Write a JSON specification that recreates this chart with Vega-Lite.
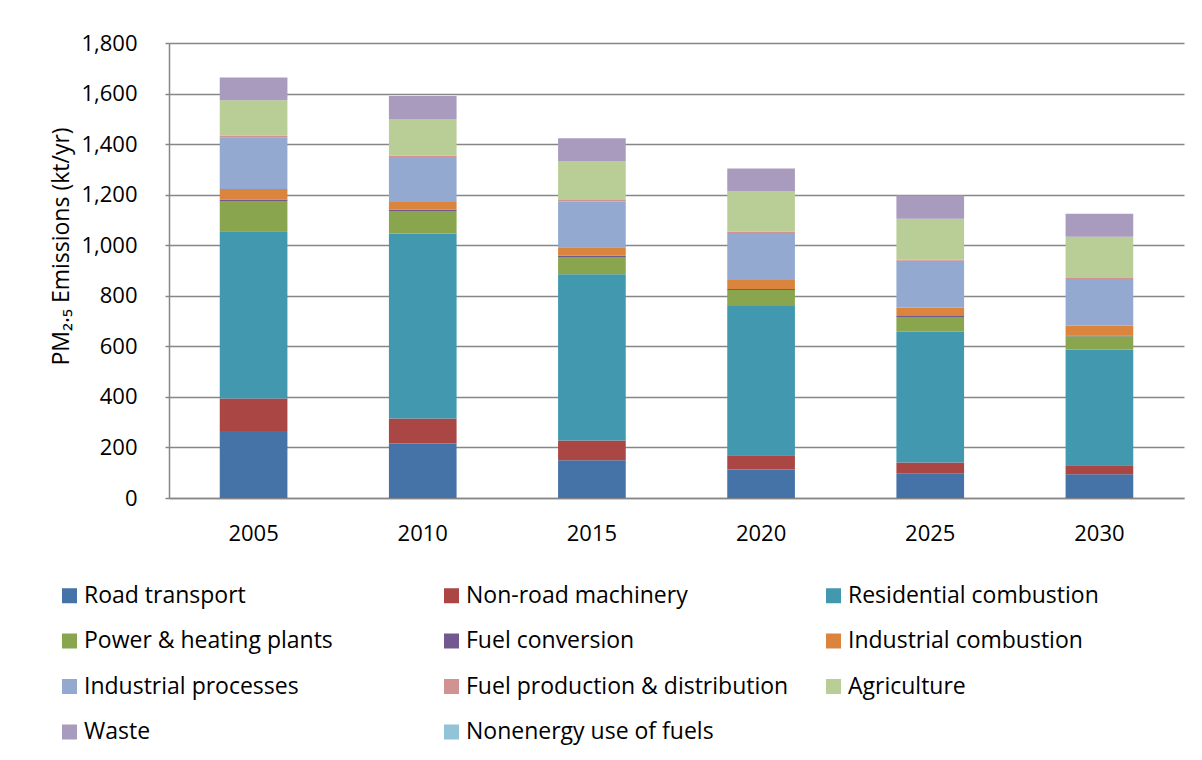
{
  "$schema": "https://vega.github.io/schema/vega-lite/v6.json",
  "autosize": {"type": "none"},
  "width": 1015,
  "height": 455,
  "padding": {"left": 169, "top": 43, "right": 18, "bottom": 262},
  "background": "white",
  "config": {
    "view": {"stroke": null},
    "font": "Open Sans",
    "axis": {"labelFont": "Open Sans", "titleFont": "Open Sans", "labelColor": "#000000", "titleColor": "#000000", "titleFontWeight": "normal"},
    "legend": {"labelFont": "Open Sans"}
  },
  "data": {
    "values": [
      {"year": "2005", "sector": "Road transport", "value": 265},
      {"year": "2005", "sector": "Non-road machinery", "value": 129},
      {"year": "2005", "sector": "Residential combustion", "value": 661},
      {"year": "2005", "sector": "Power & heating plants", "value": 120},
      {"year": "2005", "sector": "Fuel conversion", "value": 6},
      {"year": "2005", "sector": "Industrial combustion", "value": 41},
      {"year": "2005", "sector": "Industrial processes", "value": 203},
      {"year": "2005", "sector": "Fuel production & distribution", "value": 8},
      {"year": "2005", "sector": "Agriculture", "value": 141},
      {"year": "2005", "sector": "Waste", "value": 90},
      {"year": "2005", "sector": "Nonenergy use of fuels", "value": 0},
      {"year": "2010", "sector": "Road transport", "value": 216},
      {"year": "2010", "sector": "Non-road machinery", "value": 99},
      {"year": "2010", "sector": "Residential combustion", "value": 731},
      {"year": "2010", "sector": "Power & heating plants", "value": 89},
      {"year": "2010", "sector": "Fuel conversion", "value": 5},
      {"year": "2010", "sector": "Industrial combustion", "value": 31},
      {"year": "2010", "sector": "Industrial processes", "value": 178},
      {"year": "2010", "sector": "Fuel production & distribution", "value": 5},
      {"year": "2010", "sector": "Agriculture", "value": 145},
      {"year": "2010", "sector": "Waste", "value": 91},
      {"year": "2010", "sector": "Nonenergy use of fuels", "value": 0},
      {"year": "2015", "sector": "Road transport", "value": 149},
      {"year": "2015", "sector": "Non-road machinery", "value": 78},
      {"year": "2015", "sector": "Residential combustion", "value": 658},
      {"year": "2015", "sector": "Power & heating plants", "value": 68},
      {"year": "2015", "sector": "Fuel conversion", "value": 5},
      {"year": "2015", "sector": "Industrial combustion", "value": 34},
      {"year": "2015", "sector": "Industrial processes", "value": 181},
      {"year": "2015", "sector": "Fuel production & distribution", "value": 6},
      {"year": "2015", "sector": "Agriculture", "value": 154},
      {"year": "2015", "sector": "Waste", "value": 90},
      {"year": "2015", "sector": "Nonenergy use of fuels", "value": 0},
      {"year": "2020", "sector": "Road transport", "value": 113},
      {"year": "2020", "sector": "Non-road machinery", "value": 56},
      {"year": "2020", "sector": "Residential combustion", "value": 591},
      {"year": "2020", "sector": "Power & heating plants", "value": 63},
      {"year": "2020", "sector": "Fuel conversion", "value": 4},
      {"year": "2020", "sector": "Industrial combustion", "value": 35},
      {"year": "2020", "sector": "Industrial processes", "value": 186},
      {"year": "2020", "sector": "Fuel production & distribution", "value": 5},
      {"year": "2020", "sector": "Agriculture", "value": 160},
      {"year": "2020", "sector": "Waste", "value": 91},
      {"year": "2020", "sector": "Nonenergy use of fuels", "value": 0},
      {"year": "2025", "sector": "Road transport", "value": 98},
      {"year": "2025", "sector": "Non-road machinery", "value": 42},
      {"year": "2025", "sector": "Residential combustion", "value": 518},
      {"year": "2025", "sector": "Power & heating plants", "value": 58},
      {"year": "2025", "sector": "Fuel conversion", "value": 4},
      {"year": "2025", "sector": "Industrial combustion", "value": 34},
      {"year": "2025", "sector": "Industrial processes", "value": 185},
      {"year": "2025", "sector": "Fuel production & distribution", "value": 5},
      {"year": "2025", "sector": "Agriculture", "value": 161},
      {"year": "2025", "sector": "Waste", "value": 92},
      {"year": "2025", "sector": "Nonenergy use of fuels", "value": 0},
      {"year": "2030", "sector": "Road transport", "value": 94},
      {"year": "2030", "sector": "Non-road machinery", "value": 36},
      {"year": "2030", "sector": "Residential combustion", "value": 457},
      {"year": "2030", "sector": "Power & heating plants", "value": 53},
      {"year": "2030", "sector": "Fuel conversion", "value": 3},
      {"year": "2030", "sector": "Industrial combustion", "value": 39},
      {"year": "2030", "sector": "Industrial processes", "value": 184},
      {"year": "2030", "sector": "Fuel production & distribution", "value": 4},
      {"year": "2030", "sector": "Agriculture", "value": 164},
      {"year": "2030", "sector": "Waste", "value": 91},
      {"year": "2030", "sector": "Nonenergy use of fuels", "value": 0}
    ]
  },
  "transform": [
    {"calculate": "indexof(['Road transport','Non-road machinery','Residential combustion','Power & heating plants','Fuel conversion','Industrial combustion','Industrial processes','Fuel production & distribution','Agriculture','Waste','Nonenergy use of fuels'], datum.sector)", "as": "stackOrder"}
  ],
  "mark": {"type": "bar"},
  "encoding": {
    "x": {
      "field": "year",
      "type": "ordinal",
      "scale": {"paddingInner": 0.6, "paddingOuter": 0.3},
      "axis": {
        "title": null,
        "labelAngle": 0,
        "labelFontSize": 22,
        "labelPadding": 25,
        "ticks": false,
        "domainColor": "#868686",
        "domainWidth": 1.5,
        "grid": false
      }
    },
    "y": {
      "field": "value",
      "type": "quantitative",
      "stack": "zero",
      "scale": {"domain": [0, 1800], "nice": false},
      "axis": {
        "title": "PM₂.₅ Emissions (kt/yr)",
        "titleFontSize": 23,
        "titleAngle": 270,
        "titleAlign": "center",
        "titleBaseline": "middle",
        "titleX": -108,
        "titleY": 203,
        "values": [0, 200, 400, 600, 800, 1000, 1200, 1400, 1600, 1800],
        "format": ",d",
        "labelFontSize": 22,
        "labelPadding": 28,
        "tickSize": 4,
        "tickColor": "#868686",
        "tickWidth": 1.5,
        "domainColor": "#868686",
        "domainWidth": 1.5,
        "grid": true,
        "gridColor": "#868686",
        "gridWidth": 1.5
      }
    },
    "color": {
      "field": "sector",
      "type": "nominal",
      "scale": {
        "domain": ["Road transport", "Non-road machinery", "Residential combustion", "Power & heating plants", "Fuel conversion", "Industrial combustion", "Industrial processes", "Fuel production & distribution", "Agriculture", "Waste", "Nonenergy use of fuels"],
        "range": ["#4572A7", "#AA4643", "#4198AF", "#89A54E", "#71588F", "#DB843D", "#93A9CF", "#D19392", "#B9CD96", "#A99BBD", "#92C3D6"]
      },
      "legend": {
        "title": null,
        "orient": "none",
        "legendX": -111,
        "legendY": 541,
        "direction": "horizontal",
        "columns": 3,
        "gridAlign": "all",
        "columnPadding": 33,
        "rowPadding": 21.5,
        "symbolType": "square",
        "symbolSize": 225,
        "symbolStrokeWidth": 0,
        "labelFontSize": 23,
        "labelOffset": 3,
        "labelLimit": 400,
        "labelColor": "#000000"
      }
    },
    "order": {"field": "stackOrder", "type": "quantitative"}
  }
}
